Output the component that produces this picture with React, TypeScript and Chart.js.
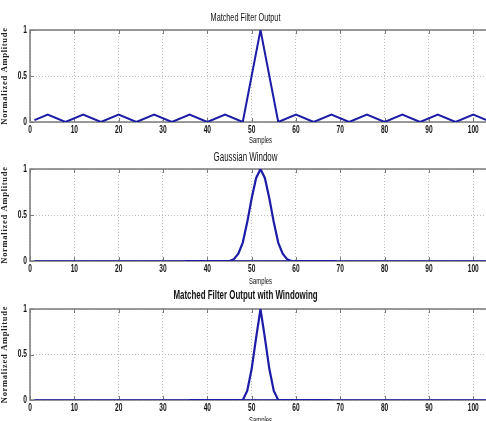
import React, { useEffect, useRef } from "react";
import { Chart, registerables } from "chart.js";

Chart.register(...registerables);

// ---- data ----
const xTicks = [0, 10, 20, 30, 40, 50, 60, 70, 80, 90, 100];
const yTicks = [0, 0.5, 1];

const mfX = [1, 4, 8, 12, 16, 20, 24, 28, 32, 36, 40, 44, 48, 52, 56, 60, 64, 68, 72, 76, 80, 84, 88, 92, 96, 100, 103];
const mfY = [0.02, 0.08, 0, 0.08, 0, 0.08, 0, 0.08, 0, 0.08, 0, 0.08, 0, 1, 0, 0.08, 0, 0.08, 0, 0.08, 0, 0.08, 0, 0.08, 0, 0.08, 0.02];

const baseX = [1, 104];
const baseY = [0, 0];

const gwX = [35, 44, 45, 46, 47, 48, 49, 50, 51, 52, 53, 54, 55, 56, 57, 58, 59, 60, 69];
const gwY = [0, 0, 0, 0.02, 0.08, 0.2, 0.42, 0.68, 0.9, 1, 0.9, 0.68, 0.42, 0.2, 0.08, 0.02, 0, 0, 0];

const mwX = [36, 47, 48, 49, 50, 51, 52, 53, 54, 55, 56, 57, 68];
const mwY = [0, 0, 0, 0.1, 0.34, 0.68, 1, 0.68, 0.34, 0.1, 0, 0, 0];

const titles = ["Matched Filter Output", "Gaussian Window", "Matched Filter Output with Windowing"];
const xLabel = "Samples";
const yLabel = "Normalized Amplitude";

const LINE = "#1c1ca6";
const FRAME = "#7a7a7a";
const SANS = "'Liberation Sans', Arial, sans-serif";
const SERIF = "'Liberation Serif', serif";
const CONDENSE = 0.66;

const pts = (xs: number[], ys: number[]) => xs.map((x, i) => ({ x, y: ys[i] }));

// draws sans text horizontally condensed (like the narrow Helvetica of the original figure)
const condensePlugin = {
  id: "condense",
  beforeDraw(chart: any) {
    const ctx = chart.ctx;
    if (ctx.__condensed) return;
    ctx.__condensed = true;
    const orig = ctx.fillText.bind(ctx);
    ctx.fillText = (t: string, x: number, y: number, maxW?: number) => {
      if (String(ctx.font).indexOf("Serif") >= 0) {
        const prev = ctx.letterSpacing;
        ctx.letterSpacing = "0.7px";
        orig(t, x, y);
        ctx.letterSpacing = prev;
        return;
      }
      ctx.save();
      ctx.translate(x, y);
      ctx.scale(CONDENSE, 1);
      if (maxW === undefined) orig(t, 0, 0);
      else orig(t, 0, 0, maxW / CONDENSE);
      ctx.restore();
    };
  },
};

const framePlugin = {
  id: "frame",
  beforeDatasetsDraw(chart: any) {
    const { ctx, chartArea: a, scales } = chart;
    ctx.save();
    ctx.strokeStyle = FRAME;
    ctx.lineWidth = 1.5;
    ctx.strokeRect(a.left, a.top, a.right - a.left, a.bottom - a.top);
    ctx.lineWidth = 1;
    ctx.beginPath();
    xTicks.forEach((v) => {
      const px = Math.round(scales.x.getPixelForValue(v)) + 0.5;
      ctx.moveTo(px, a.bottom);
      ctx.lineTo(px, a.bottom - 4);
      ctx.moveTo(px, a.top);
      ctx.lineTo(px, a.top + 4);
    });
    yTicks.forEach((v) => {
      const py = Math.round(scales.y.getPixelForValue(v)) + 0.5;
      ctx.moveTo(a.left, py);
      ctx.lineTo(a.left + 4, py);
      ctx.moveTo(a.right, py);
      ctx.lineTo(a.right - 4, py);
    });
    ctx.stroke();
    ctx.restore();
  },
};

type PanelProps = {
  top: number;
  height: number;
  xAxisHeight: number;
  title: string;
  titleSize: number;
  titleBold: boolean;
  titlePad: { top: number; bottom: number };
  datasets: any[];
};

function Panel(p: PanelProps) {
  const ref = useRef<HTMLCanvasElement | null>(null);
  useEffect(() => {
    if (!ref.current) return;
    const chart = new Chart(ref.current, {
      type: "line",
      data: { datasets: p.datasets },
      plugins: [condensePlugin, framePlugin],
      options: {
        animation: false,
        responsive: false,
        devicePixelRatio: 1,
        layout: { padding: 0 },
        elements: { point: { radius: 0 }, line: { tension: 0 } },
        plugins: {
          legend: { display: false },
          tooltip: { enabled: false },
          title: {
            display: true,
            text: p.title,
            color: "#111",
            font: { family: SANS, size: p.titleSize, weight: p.titleBold ? "bold" : "normal", lineHeight: 1.2 },
            padding: p.titlePad,
          },
        },
        scales: {
          x: {
            type: "linear",
            min: 0,
            max: 104,
            afterFit: (s: any) => {
              s.height = p.xAxisHeight;
            },
            ticks: {
              stepSize: 10,
              includeBounds: false,
              padding: 2,
              color: "#111",
              font: { family: SANS, size: 10, weight: "bold" },
              maxRotation: 0,
              autoSkip: false,
            },
            grid: { color: "#bdbdbd", lineWidth: 1, drawTicks: false },
            border: { display: false, dash: [1, 2] },
            title: {
              display: true,
              text: xLabel,
              color: "#111",
              font: { family: SANS, size: 9, lineHeight: 1.2 },
              padding: { top: 0, bottom: 0 },
            },
          },
          y: {
            type: "linear",
            min: 0,
            max: 1,
            afterFit: (s: any) => {
              s.width = 30;
            },
            ticks: {
              stepSize: 0.5,
              padding: 3,
              color: "#111",
              font: { family: SANS, size: 10, weight: "bold" },
              callback: (v: any) => String(v),
            },
            grid: { color: "#bdbdbd", lineWidth: 1, drawTicks: false },
            border: { display: false, dash: [1, 2] },
            title: {
              display: true,
              text: yLabel,
              color: "#222",
              font: { family: SERIF, size: 8.5, weight: "bold", lineHeight: 1.2 },
              padding: { top: 0, bottom: 0.5 },
            },
          },
        },
      } as any,
    });
    return () => chart.destroy();
  }, []);
  return (
    <canvas
      ref={ref}
      width={491}
      height={p.height}
      style={{ position: "absolute", left: 0, top: p.top, width: 491, height: p.height }}
    />
  );
}

export default function App() {
  const ds1 = [
    { data: pts(mfX, mfY), borderColor: LINE, borderWidth: 2, fill: false },
  ];
  const ds2 = [
    { data: pts(baseX, baseY), borderColor: LINE, borderWidth: 1.6, fill: false },
    { data: pts(gwX, gwY), borderColor: LINE, borderWidth: 2.2, fill: false },
  ];
  const ds3 = [
    { data: pts(baseX, baseY), borderColor: LINE, borderWidth: 1.6, fill: false },
    { data: pts(mwX, mwY), borderColor: LINE, borderWidth: 2.2, fill: false },
  ];
  return (
    <div
      style={{
        position: "absolute",
        left: 0,
        top: 0,
        width: 486,
        height: 421,
        overflow: "hidden",
        background: "#fff",
      }}
    >
      <Panel top={0} height={146} xAxisHeight={24} title={titles[0]} titleSize={11} titleBold={false}
        titlePad={{ top: 11.4, bottom: 5.4 }} datasets={ds1} />
      <Panel top={142} height={145} xAxisHeight={26} title={titles[1]} titleSize={12} titleBold={false}
        titlePad={{ top: 8.3, bottom: 4.3 }} datasets={ds2} />
      <Panel top={282} height={144} xAxisHeight={26} title={titles[2]} titleSize={12} titleBold={true}
        titlePad={{ top: 6.8, bottom: 5.8 }} datasets={ds3} />
    </div>
  );
}
